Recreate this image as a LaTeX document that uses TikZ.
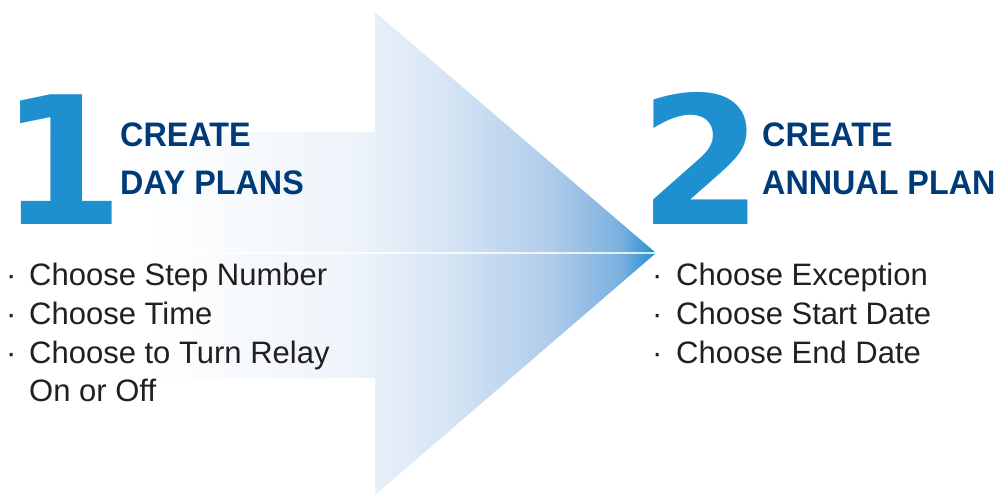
\documentclass[tikz,border=0pt]{standalone}
\usepackage{fontspec}
\setmainfont{Liberation Sans}
\newfontfamily\numfont{DejaVu Sans}
\newfontfamily\headfont{Liberation Sans}[FakeStretch=0.95]

\definecolor{numblue}{HTML}{1E90D0}
\definecolor{headblue}{HTML}{003B79}
\definecolor{bodygray}{HTML}{231F20}
\definecolor{shadeA}{HTML}{EEF4FA}
\definecolor{shadeB}{HTML}{D5E4F4}
\definecolor{shadeC}{HTML}{B0CCEA}
\definecolor{shadeD}{HTML}{7AB0DF}

% white on the left, blue at the tip (path box maps to 25bp..75bp)
\pgfdeclarehorizontalshading{arrowfill}{100bp}{%
  color(0bp)=(white); color(36bp)=(white);
  color(51.7bp)=(shadeA); color(59.3bp)=(shadeB);
  color(66.9bp)=(shadeC); color(72.3bp)=(shadeD);
  color(75bp)=(numblue); color(100bp)=(numblue)}

\begin{document}
\begin{tikzpicture}[
    x=1pt, y=-1pt,
    bignum/.style={anchor=base west, inner sep=0pt, text=numblue, font=\numfont\bfseries\fontsize{178}{178}\selectfont},
    head/.style={anchor=base west, inner sep=0pt, text=headblue, font=\headfont\bfseries\fontsize{34}{34}\selectfont},
    item/.style={anchor=base west, inner sep=0pt, text=bodygray, font=\fontsize{31}{31}\selectfont},
    dot/.style={item}
]
\useasboundingbox (0,0) rectangle (1003,496);

% Big arrow
\shade[shading=arrowfill] (0,132) -- (375,132) -- (375,12) -- (656,253)
    -- (375,495) -- (375,378) -- (0,378) -- cycle;
\coordinate (tail) at (0,253);
\coordinate (tip) at (656,253);
\draw[white, line width=1.5pt, opacity=0.8] (tail) -- (tip);

% Step 1
\node[bignum] (num1) at (0,224) {1};
\node[head] (head1a) at (120,146) {CREATE};
\node[head] (head1b) at (120,194) {DAY PLANS};

\foreach \txt [count=\i] in {Choose Step Number, Choose Time, Choose to Turn Relay} {
    \node[dot] (dotl\i) at (6,246+39*\i) {·};
    \node[item] (iteml\i) at (29,246+39*\i) {\txt};
}
\node[item] (iteml4) at (29,401) {On or Off};

% Step 2
\node[bignum] (num2) at (639,224) {2};
\node[head] (head2a) at (762,146) {CREATE};
\node[head] (head2b) at (762,194) {ANNUAL PLAN};

\foreach \txt [count=\i] in {Choose Exception, Choose Start Date, Choose End Date} {
    \node[dot] (dotr\i) at (652,246+39*\i) {·};
    \node[item] (itemr\i) at (676,246+39*\i) {\txt};
}

\end{tikzpicture}
\end{document}
